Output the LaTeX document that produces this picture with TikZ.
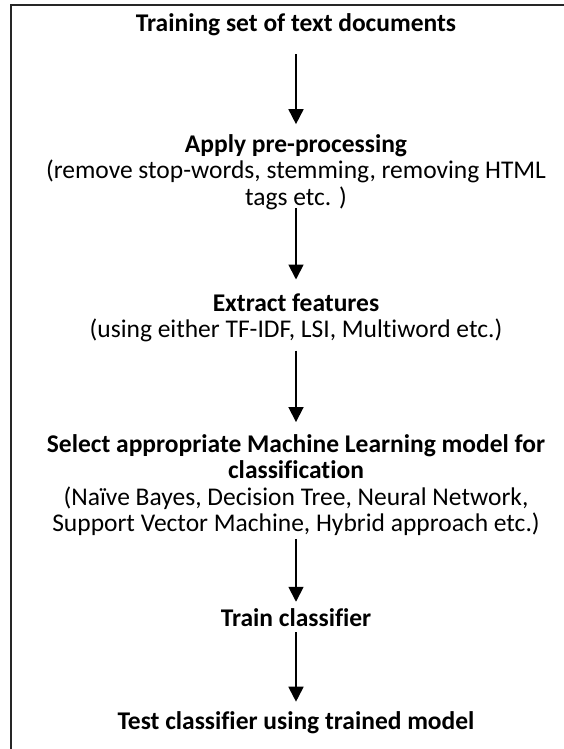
\documentclass[tikz,border=0pt]{standalone}
\usepackage{fontspec}
\setmainfont{Carlito}[Ligatures=NoCommon]
\usetikzlibrary{arrows.meta}

\begin{document}
\begin{tikzpicture}
  [x=1pt,y=-1pt,
   every node/.style={align=center,inner sep=0pt,font=\fontsize{25.5}{26.5}\selectfont},
   flow/.style={-{Triangle[width=15pt,length=15pt]},line width=1.8pt}]
  \useasboundingbox (0,0) rectangle (564,749);
  \draw [line width=2.2pt,draw=black!85] (11,760) -- (11,5) -- (575,5);

  \node (docs) at (296,25) {\textbf{Training set of text documents}};
  \node (prep) at (296,172) {\textbf{Apply pre-processing}\\
    (remove stop-words, stemming, removing HTML\\ tags etc. )};
  \node (feat) at (296,318) {\textbf{Extract features}\\
    (using either TF-IDF, LSI, Multiword etc.)};
  \node (model) at (296,485) {\textbf{Select appropriate Machine Learning model for}\\
    \textbf{classification}\\
    (Naïve Bayes, Decision Tree, Neural Network,\\
    Support Vector Machine, Hybrid approach etc.)};
  \node (train) at (296,618) {\textbf{Train classifier}};
  \node (test) at (296,723) {\textbf{Test classifier using trained model}};

  \foreach \from/\to/\s/\e in {docs/prep/18/10, prep/feat/-2/14, feat/model/8/12,
                               model/train/3/7, train/test/5/10}
    \draw [flow,shorten <=\s pt,shorten >=\e pt] (\from) -- (\to);

\end{tikzpicture}
\end{document}
